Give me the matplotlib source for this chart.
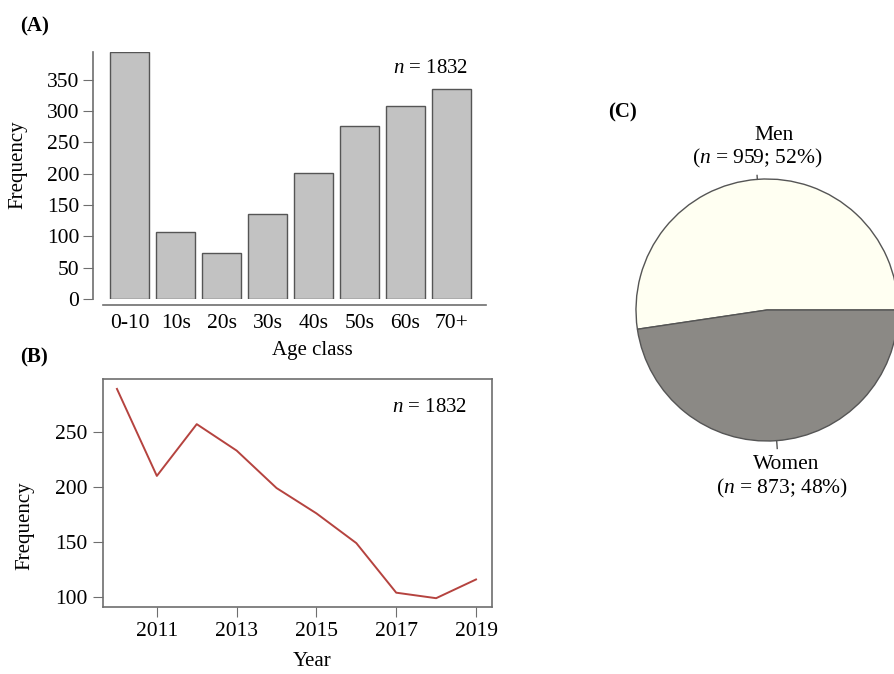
import numpy as np
import matplotlib.pyplot as plt

plt.rcParams['font.family'] = 'Liberation Serif'
plt.rcParams['mathtext.fontset'] = 'custom'
plt.rcParams['mathtext.it'] = 'Liberation Serif:italic'
plt.rcParams['mathtext.rm'] = 'Liberation Serif'

# (A) age classes
age_classes = ['0-10', '10s', '20s', '30s', '40s', '50s', '60s', '70+']
age_counts = [394, 107, 74, 136, 201, 276, 309, 335]

# (B) yearly counts
years = [2010, 2011, 2012, 2013, 2014, 2015, 2016, 2017, 2018, 2019]
year_counts = [289, 210, 257, 233, 199, 176, 149, 104, 99, 116]

# (C) sex
sex_labels = ['Men', 'Women']
sex_counts = [959, 873]

axis_col = '#6e6e6e'
tick_fs = 15.5
lab_fs = 15
W, H = 894, 674

fig = plt.figure(figsize=(W / 100, H / 100), dpi=100)

# ---- (A) bar chart
ax1 = fig.add_axes([0.1152, 0.5564, 0.4284, 0.366])
x = np.arange(len(age_classes))
ax1.bar(x, age_counts, width=0.85, color='#c2c2c2', edgecolor='#555555', linewidth=1.0)
ax1.set_xlim(-0.58, 7.75)
ax1.set_ylim(0, 394)
for s in ['top', 'right']:
    ax1.spines[s].set_visible(False)
ax1.spines['left'].set_position(('outward', 7))
ax1.spines['left'].set_bounds(0, 394)
ax1.spines['bottom'].set_position(('outward', 4))
for s in ['left', 'bottom']:
    ax1.spines[s].set_color(axis_col)
    ax1.spines[s].set_linewidth(1.2)
ax1.set_yticks(range(0, 351, 50))
ax1.set_xticks(x)
ax1.set_xticklabels(age_classes)
ax1.tick_params(axis='y', length=7, color=axis_col, labelsize=tick_fs, pad=3)
ax1.tick_params(axis='x', length=0, labelsize=tick_fs, pad=7)
fig.text(18 / W, 1 - 165 / H, 'Frequency', rotation=90, fontsize=lab_fs, ha='center', va='center')
fig.text(312 / W, 1 - 350 / H, 'Age class', fontsize=lab_fs, ha='center', va='center')
ax1.text(0.757, 0.936, '$\\it{n}$ = 1832', transform=ax1.transAxes, fontsize=lab_fs,
         ha='left', va='center')
fig.text(0.022, 1 - 26 / H, '(A)', fontsize=15, fontweight='bold', va='center')

# ---- (B) line chart
ax2 = fig.add_axes([0.1152, 0.0994, 0.4351, 0.3383])
ax2.plot(years, year_counts, color='#b5433f', linewidth=1.4)
ax2.set_xlim(2009.65, 2019.4)
ax2.set_ylim(91, 298)
ax2.set_xticks([2011, 2013, 2015, 2017, 2019])
ax2.set_yticks([100, 150, 200, 250])
for s in ax2.spines.values():
    s.set_color(axis_col)
    s.set_linewidth(1.2)
ax2.tick_params(length=7, color=axis_col, labelsize=tick_fs, pad=4)
fig.text(25 / W, 1 - 526 / H, 'Frequency', rotation=90, fontsize=lab_fs, ha='center', va='center')
fig.text(312 / W, 1 - 662 / H, 'Year', fontsize=lab_fs, ha='center', va='center')
ax2.text(0.743, 0.873, '$\\it{n}$ = 1832', transform=ax2.transAxes, fontsize=lab_fs,
         ha='left', va='center')
fig.text(0.022, 1 - 357 / H, '(B)', fontsize=15, fontweight='bold', va='center')

# ---- (C) pie chart
ax3 = fig.add_axes([0.7114, 0.3457, 0.2931, 0.3887])
ax3.pie(sex_counts, colors=['#fffff2', '#8b8985'], startangle=0, counterclock=True,
        radius=1.0, wedgeprops=dict(edgecolor='#555555', linewidth=1.0))
ax3.set_xlim(-1, 1)
ax3.set_ylim(-1, 1)
ax3.set_aspect('auto')
ax3.axis('off')

# short leader ticks at the middle of each slice
total = sum(sex_counts)
men_mid = np.deg2rad(360 * sex_counts[0] / total / 2)
women_mid = np.deg2rad(360 * (sex_counts[0] + sex_counts[1] / 2) / total)
for ang, r_out in ((men_mid, 1.03), (women_mid, 1.06)):
    ax3.plot([np.cos(ang), r_out * np.cos(ang)], [np.sin(ang), r_out * np.sin(ang)],
             color='#555555', linewidth=1.0, clip_on=False)

men_pct = round(100 * sex_counts[0] / total)
women_pct = round(100 * sex_counts[1] / total)
pie_fs = 15.5
ax3.text(0.053, 1.33, sex_labels[0], ha='center', va='center', fontsize=pie_fs, clip_on=False)
ax3.text(-0.076, 1.155, f'($\\it{{n}}$ = {sex_counts[0]}; {men_pct}%)', ha='center',
         va='center', fontsize=pie_fs, clip_on=False)
ax3.text(0.145, -1.183, sex_labels[1], ha='center', va='center', fontsize=pie_fs, clip_on=False)
ax3.text(0.115, -1.359, f'($\\it{{n}}$ = {sex_counts[1]}; {women_pct}%)', ha='center',
         va='center', fontsize=pie_fs, clip_on=False)
fig.text(0.68, 1 - 112 / H, '(C)', fontsize=15, fontweight='bold', va='center')

fig.savefig('out.png', dpi=100)
